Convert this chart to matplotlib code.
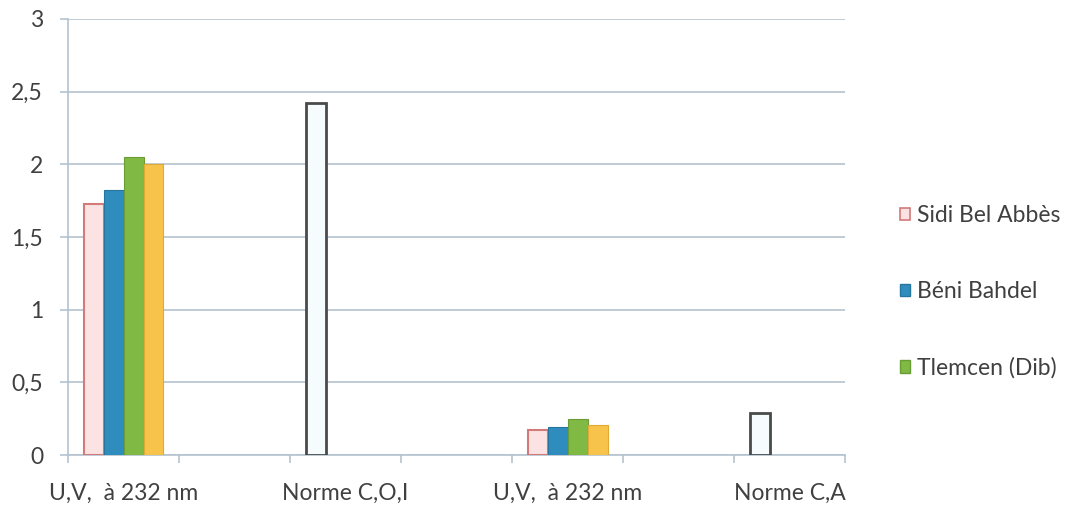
import numpy as np
import matplotlib
matplotlib.use('Agg')
import matplotlib.pyplot as plt
from matplotlib.patches import Patch
from matplotlib.ticker import FuncFormatter

plt.rcParams['font.family'] = ['Lato', 'DejaVu Sans']

# categories (7 slots, labels only every other one, like the Excel sheet)
categories = ['U,V,  à 232 nm', '', 'Norme C,O,I', '', 'U,V,  à 232 nm', '', 'Norme C,A']

# series values (nan = empty)
nan = np.nan
sidi_bel_abbes = [1.73, nan, nan, nan, 0.17, nan, nan]
beni_bahdel = [1.82, nan, nan, nan, 0.19, nan, nan]
tlemcen_dib = [2.05, nan, nan, nan, 0.25, nan, nan]
serie4 = [2.00, nan, nan, nan, 0.21, nan, nan]
norme = [nan, nan, 2.42, nan, nan, nan, 0.29]

legend_labels = ['Sidi Bel Abbès', 'Béni Bahdel', 'Tlemcen (Dib)']

fig = plt.figure(figsize=(10.66, 5.13), dpi=100)
ax = fig.add_axes([0.0638, 0.113, 0.729, 0.85])

x = np.arange(len(categories))
w = 0.18
grid_col = '#b4c3cf'
text_col = '#404040'
fs = 16.5

ax.bar(x - 1.5 * w, sidi_bel_abbes, w, color='#fbe3e3', edgecolor='#d37a7a', linewidth=1.5, zorder=3)
ax.bar(x - 0.5 * w, beni_bahdel, w, color='#2f8dbd', edgecolor='#26759f', linewidth=0.8, zorder=3)
ax.bar(x + 0.5 * w, tlemcen_dib, w, color='#80b943', edgecolor='#6a9c35', linewidth=0.8, zorder=3)
ax.bar(x + 1.5 * w, serie4, w, color='#f7c34a', edgecolor='#e0aa35', linewidth=0.8, zorder=3)
ax.bar(x - 1.5 * w, norme, w, color='#f6fbfd', edgecolor='#4a4a4a', linewidth=2, zorder=3)

ax.set_xlim(-0.5, len(categories) - 0.5)
ax.set_ylim(0, 3)
ax.set_yticks(np.arange(0, 3.01, 0.5))
ax.yaxis.set_major_formatter(FuncFormatter(lambda v, p: ('%g' % v).replace('.', ',')))
ax.yaxis.grid(True, color=grid_col, linewidth=1.2, zorder=0)

# tick marks between categories, labels at category centres
ax.set_xticks(np.arange(-0.5, len(categories), 1.0))
ax.set_xticklabels([])
ax.set_xticks(x, minor=True)
ax.set_xticklabels(categories, minor=True)
ax.tick_params(axis='x', which='major', length=6, color=grid_col, width=1.2)
ax.tick_params(axis='x', which='minor', length=0, pad=20, labelsize=fs, labelcolor=text_col)
ax.tick_params(axis='y', length=6, color=grid_col, width=1.2, labelsize=fs, labelcolor=text_col, pad=12)

for s in ['top', 'right']:
    ax.spines[s].set_visible(False)
ax.spines['left'].set_color(grid_col)
ax.spines['bottom'].set_color(grid_col)
ax.spines['left'].set_linewidth(1.2)
ax.spines['bottom'].set_linewidth(1.2)

handles = [Patch(facecolor='#fbe3e3', edgecolor='#d37a7a', linewidth=1.2),
           Patch(facecolor='#2f8dbd', edgecolor='#26759f'),
           Patch(facecolor='#80b943', edgecolor='#6a9c35')]
fig.legend(handles, legend_labels, loc='center left', bbox_to_anchor=(0.8245, 0.431),
           frameon=False, fontsize=fs, labelcolor=text_col, handlelength=0.45,
           handleheight=0.45, handletextpad=0.3, labelspacing=2.4)

plt.savefig('out.png', dpi=100)
